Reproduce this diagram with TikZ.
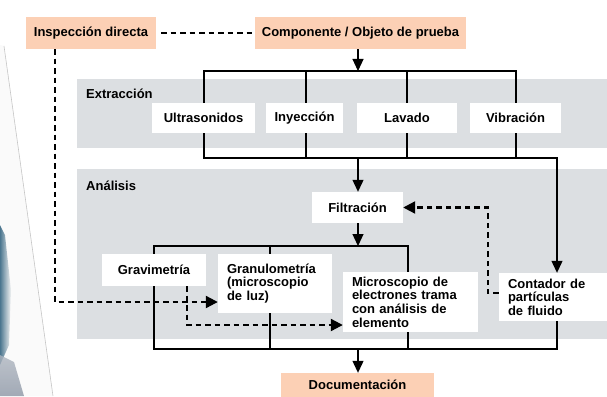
\documentclass[tikz,border=0pt]{standalone}
\usepackage{fontspec}
\setmainfont{Liberation Sans}
\usetikzlibrary{arrows.meta}
\definecolor{peach}{RGB}{252,208,181}
\definecolor{panel}{RGB}{220,223,226}
\definecolor{photoblue}{RGB}{45,95,125}
\definecolor{photogray}{RGB}{140,150,165}
\pgfdeclarelayer{panels}
\pgfdeclarelayer{lines}
\pgfsetlayers{panels,lines,main}
\begin{document}
\begin{tikzpicture}[x=1pt,y=-1pt,
 txt/.style={font=\fontsize{13}{13.6}\selectfont\bfseries},
 wbox/.style={txt, rectangle, fill=white, inner sep=0pt},
 lbox/.style={wbox, align=left, inner xsep=9pt},
 pbox/.style={txt, rectangle, fill=peach, inner sep=0pt},
 conn/.style={line width=1.2pt, line cap=rect},
 arr/.style={line width=1.2pt, -{Triangle[length=12pt,width=11pt]}},
 dline/.style={line width=2.2pt, dash pattern=on 5.5pt off 4pt},
 darr/.style={dline, -{Triangle[length=12pt,width=12pt]}},
 lab/.style={txt, anchor=west, inner sep=0pt}]

\useasboundingbox (0,0) rectangle (607,396);

% photo fragment on the left
\begin{pgfonlayer}{panels}
\fill[gray!4] (0,45) -- (4,46) -- (53,396) -- (0,396) -- cycle;
\shade[left color=photoblue, right color=gray!10, opacity=0.85] (0,225) -- (5,235) -- (11,290) -- (9,345) -- (0,365) -- cycle;
\shade[top color=photogray!70, bottom color=photogray, opacity=0.8] (0,355) -- (14,362) -- (24,396) -- (0,396) -- cycle;
\draw[gray!45, line width=0.6pt] (4,46) -- (53,396);
% panels
\fill[panel] (77,79) rectangle (607,148);
\fill[panel] (77,169) rectangle (607,339);
\end{pgfonlayer}

\node[lab] (extr) at (86,94) {Extracción};
\node[lab] (anal) at (86,186) {Análisis};

% peach boxes
\node[pbox, minimum width=130pt, minimum height=32pt] (insp) at (91,33) {Inspección directa};
\node[pbox, minimum width=211pt, minimum height=32pt] (comp) at (360.5,33) {Componente / Objeto de prueba};
\node[pbox, minimum width=153pt, minimum height=24pt] (doc) at (357.5,385) {Documentación};

% extraction boxes
\node[wbox, minimum width=103pt, minimum height=30pt] (ultra) at (203.5,118) {Ultrasonidos};
\node[wbox, minimum width=77pt, minimum height=30pt] (iny) at (304.5,118) {Inyección};
\node[wbox, minimum width=100pt, minimum height=30pt] (lav) at (407,118) {Lavado};
\node[wbox, minimum width=91pt, minimum height=30pt] (vib) at (515.5,118) {Vibración};

% analysis boxes
\node[wbox, minimum width=91pt, minimum height=31pt] (filt) at (357.5,207.5) {Filtración};
\node[wbox, minimum width=104pt, minimum height=32pt] (grav) at (154,270) {Gravimetría};
\node[lbox, text width=96pt, minimum height=59pt] (gran) at (275,283.5) {Granulometría\\(microscopio\\de luz)};
\node[lbox, text width=117pt, minimum height=60pt] (micro) at (410.5,302) {Microscopio de\\electrones trama\\con análisis de\\elemento};
\node[lbox, text width=90pt, minimum height=48pt] (cont) at (553,297) {Contador de\\partículas\\de fluido};

% bus coordinates
\coordinate (mid) at (358,71);
\coordinate (ta) at (204,71);
\coordinate (tb) at (306,71);
\coordinate (tc) at (407,71);
\coordinate (td) at (516,71);
\coordinate (ba) at (204,158);
\coordinate (bb) at (306,158);
\coordinate (bc) at (407,158);
\coordinate (bd) at (516,158);
\coordinate (be) at (557,158);
\coordinate (bm) at (358,158);
\coordinate (ma) at (154,246);
\coordinate (mb) at (270,246);
\coordinate (mc) at (408,246);
\coordinate (mm) at (358,246);
\coordinate (na) at (154,349);
\coordinate (nb) at (270,349);
\coordinate (nc) at (408,349);
\coordinate (nd) at (557,349);
\coordinate (nm) at (358,349);

\begin{pgfonlayer}{lines}
\draw[conn] (ba) -- (ta) -- (td) -- (bd);
\draw[conn] (tb) -- (bb);
\draw[conn] (tc) -- (bc);
\draw[conn] (ba) -- (be);
\draw[conn] (na) -- (ma) -- (mc) -- (nc);
\draw[conn] (mb) -- (nb);
\draw[conn] (cont.south -| nd) -- (nd) -- (na);
\end{pgfonlayer}

% arrows
\draw[arr] (comp.south -| mid) -- (mid);
\draw[arr] (be) -- (cont.north -| be);
\draw[arr] (bm) -- (filt.north -| bm);
\draw[arr] (filt.south -| mm) -- (mm);
\draw[arr] (nm) -- (doc.north -| nm);

% dashed connectors
\draw[dline, shorten <=5pt, shorten >=3pt] (insp.east) -- (comp.west);
\draw[darr] ([xshift=29pt]insp.south west) |- (gran.west |- 0,302);
\draw[darr] ([xshift=85pt]grav.south west) |- (micro.west |- 0,325);
\draw[darr] (cont.west |- 0,293) -- ++(-11,0) |- (filt.east);
\end{tikzpicture}
\end{document}
